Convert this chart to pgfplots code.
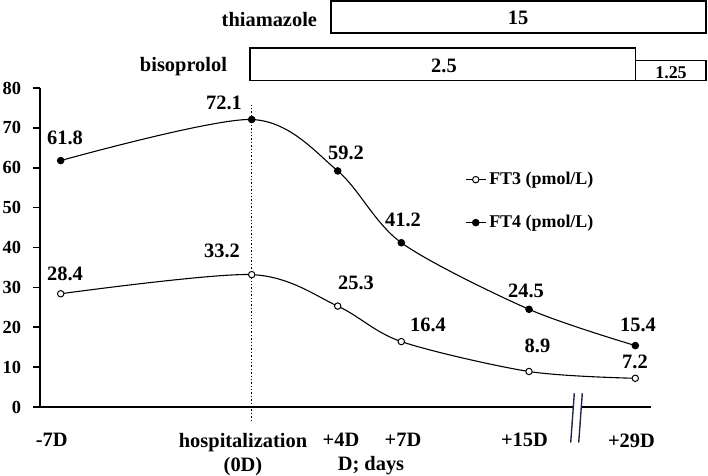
\documentclass[border=0pt]{standalone}
\usepackage{fontspec}
\setmainfont{Liberation Serif}
\usepackage{pgfplots}
\pgfplotsset{compat=1.18}
\definecolor{navy}{RGB}{30,40,80}
\begin{document}
\bfseries\fontsize{20.5}{24}\selectfont
\begin{tikzpicture}[font=\bfseries\fontsize{20.5}{24}\selectfont]
\begin{axis}[
  scale only axis, width=611bp, height=319bp,
  xmin=40, xmax=651, ymin=0, ymax=80,
  clip=false,
  axis x line=bottom, axis y line=left,
  axis line style={line width=1.8pt, -},
  ytick={0,10,...,80},
  y tick label style={/pgf/number format/assume math mode=true,
    font=\bfseries\fontsize{18.5}{22}\selectfont, xshift=-5bp},
  ytick style={line width=1.6pt, black},
  tick align=outside, major tick length=7bp,
  xtick={51.7,243,341,403,524.5,631.5},
  xticklabels={-7D,{hospitalization\\(0D)},+4D,+7D,+15D,+29D},
  x tick label style={align=center, anchor=north, yshift=-12.5bp},
  xtick style={draw=none},
  legend style={draw=none, fill=none, at={(axis cs:465,59.2)}, anchor=north west,
    row sep=26bp, inner sep=0pt, font=\bfseries\fontsize{18}{21}\selectfont,
    nodes={inner sep=0pt, text height=13bp, text depth=4bp}},
  legend cell align=left,
  legend image code/.code={\draw[mark repeat=2,mark phase=2,#1] plot coordinates {(0bp,0bp) (10bp,0bp) (20bp,0bp)};},
]
\addplot[black, line width=1.1pt, smooth, tension=0.5, mark=*, mark size=3.2bp,
  mark options={fill=white, line width=1pt}]
  coordinates {(60.7,28.4) (251.7,33.2) (337.7,25.3) (401.3,16.4) (529,8.9) (635.3,7.2)};
\addlegendentry{\,FT3 (pmol/L)}
\addplot[black, line width=1.1pt, smooth, tension=0.5, mark=*, mark size=3.2bp,
  mark options={fill=black}]
  coordinates {(60.7,61.8) (251.7,72.1) (337.7,59.2) (401.3,41.2) (529,24.5) (635.3,15.4)};
\addlegendentry{\,FT4 (pmol/L)}
\addplot[black, line width=1.4pt, dotted, forget plot] coordinates {(251.7,-3.5) (251.7,75.7)};
% value labels
\node at (axis cs:65,67.5) {61.8};
\node at (axis cs:224,76.3) {72.1};
\node at (axis cs:346,63.7) {59.2};
\node at (axis cs:403,46.9) {41.2};
\node at (axis cs:526,29.1) {24.5};
\node at (axis cs:638,20.7) {15.4};
\node at (axis cs:65,33.5) {28.4};
\node at (axis cs:222,39.1) {33.2};
\node at (axis cs:356,31.2) {25.3};
\node at (axis cs:428,20.5) {16.4};
\node at (axis cs:537.5,15.3) {8.9};
\node at (axis cs:635,11.3) {7.2};
\node at (axis cs:371,-14.6) {D; days};
% axis break
\fill[white] (axis cs:574.3,-0.6) rectangle (axis cs:582.3,0.6);
\draw[navy, line width=1.4pt] (axis cs:574.3,3.45) -- (axis cs:570.7,-8.95);
\draw[navy, line width=1.4pt] (axis cs:582.3,3.45) -- (axis cs:578.7,-8.95);
% drug boxes
\draw[line width=1.2pt] (axis cs:331,93.79) rectangle (axis cs:706,101.82);
\draw[line width=1.2pt] (axis cs:250,81.83) rectangle (axis cs:635.3,90.03);
\draw[line width=1.2pt] (axis cs:635.3,81.83) rectangle (axis cs:706,86.85);
\node[anchor=east] at (axis cs:324,97.3) {thiamazole};
\node[anchor=east] at (axis cs:234,85.3) {bisoprolol};
\node at (axis cs:518,97.6) {15};
\node at (axis cs:444,85.6) {2.5};
\node[font=\bfseries\fontsize{18}{20}\selectfont] at (axis cs:671,83.9) {1.25};
\coordinate (tl) at (axis cs:0,102.07);
\coordinate (br) at (axis cs:708,-17.30);
\end{axis}
\pgfresetboundingbox
\path[use as bounding box] (tl) rectangle (br);
\end{tikzpicture}
\end{document}
